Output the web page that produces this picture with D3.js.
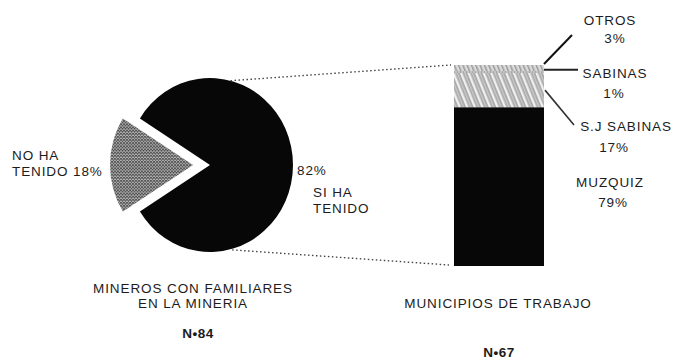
<!DOCTYPE html>
<html>
<head>
<meta charset="utf-8">
<script src="https://cdn.jsdelivr.net/npm/d3@7"></script>
<style>
  html, body { margin: 0; padding: 0; background: #fff; }
  svg { display: block; }
  text { font-family: "Liberation Sans", Arial, sans-serif; fill: #1c1c1c; }
</style>
</head>
<body>
<svg id="chart" width="681" height="359"></svg>
<script>
// ---- data ----
const pieCategories = ["SI HA TENIDO", "NO HA TENIDO"];
const pieValues = [82, 18];
const pieLabels = ["82%", "18%"];
const pieTitle = ["MINEROS CON FAMILIARES", "EN LA MINERIA"];
const pieN = "N•84";

const barCategories = ["MUZQUIZ", "S.J SABINAS", "SABINAS", "OTROS"];
const barValues = [79, 17, 1, 3];
const barLabels = ["79%", "17%", "1%", "3%"];
const barTitle = "MUNICIPIOS DE TRABAJO";
const barN = "N•67";

// ---- setup ----
const svg = d3.select("#chart");
const defs = svg.append("defs");

// cross-hatch for pie slice
const ph = defs.append("pattern").attr("id", "cross").attr("patternUnits", "userSpaceOnUse")
  .attr("width", 3).attr("height", 3);
ph.append("rect").attr("width", 3).attr("height", 3).attr("fill", "#b4b4b4");
ph.append("path").attr("d", "M0,0 L3,3 M3,0 L0,3").attr("stroke", "#4a4a4a").attr("stroke-width", 0.8);

// diagonal stripes for S.J SABINAS
const ps = defs.append("pattern").attr("id", "stripes").attr("patternUnits", "userSpaceOnUse")
  .attr("width", 7).attr("height", 7).attr("patternTransform", "rotate(-22)");
ps.append("rect").attr("width", 7).attr("height", 7).attr("fill", "#a8a8a8");
ps.append("rect").attr("x", 0).attr("width", 2.4).attr("height", 7).attr("fill", "#efefef");
ps.append("rect").attr("x", 4.2).attr("width", 1).attr("height", 7).attr("fill", "#d4d4d4");

// light pattern for top small segments
const pl = defs.append("pattern").attr("id", "light").attr("patternUnits", "userSpaceOnUse")
  .attr("width", 4).attr("height", 4).attr("patternTransform", "rotate(-22)");
pl.append("rect").attr("width", 4).attr("height", 4).attr("fill", "#dcdcdc");
pl.append("rect").attr("width", 1.5).attr("height", 4).attr("fill", "#9a9a9a");

const pd = defs.append("pattern").attr("id", "dots").attr("patternUnits", "userSpaceOnUse")
  .attr("width", 3).attr("height", 3);
pd.append("rect").attr("width", 3).attr("height", 3).attr("fill", "#c8c8c8");
pd.append("circle").attr("cx", 1.5).attr("cy", 1.5).attr("r", 0.9).attr("fill", "#777");

// ---- pie ----
const cx = 210, cy = 165, rx = 83, ry = 87;
const pFrac = pieValues[1] / d3.sum(pieValues);
const start = 1.5 * Math.PI - Math.PI * pFrac - 2 * Math.PI * (1 - pFrac);
const pie = d3.pie().sort(null).startAngle(start).endAngle(start + 2 * Math.PI);
const arcs = pie(pieValues);
const arc = d3.arc().innerRadius(0).outerRadius(rx);
const pieG = svg.append("g").attr("transform", `translate(${cx},${cy}) scale(1,${ry / rx})`);
const explode = [0, 17];
const pieFills = ["#070707", "url(#cross)"];
pieG.selectAll("path.slice").data(arcs).join("path")
  .attr("class", "slice")
  .attr("d", arc)
  .attr("transform", (d, i) => `translate(${-explode[i]},0)`)
  .attr("fill", (d, i) => pieFills[i]);

// ---- bar ----
const y = d3.scaleLinear().domain([0, 100]).range([266, 65]);
const bx0 = 454, bx1 = 544;
const stack = [];
let acc = 0;
barValues.forEach((v, i) => { stack.push({ cat: barCategories[i], v0: acc, v1: acc + v }); acc += v; });
const barFills = ["#070707", "url(#stripes)", "url(#dots)", "url(#light)"];
svg.selectAll("rect.seg").data(stack).join("rect")
  .attr("class", "seg")
  .attr("x", bx0).attr("width", bx1 - bx0)
  .attr("y", d => y(d.v1)).attr("height", d => y(d.v0) - y(d.v1))
  .attr("fill", (d, i) => barFills[i]);

// ---- dotted connectors ----
const aTop = 0.25, aBot = Math.PI - 0.27;
const conn = [
  [[cx + rx * Math.sin(aTop), cy - ry * Math.cos(aTop)], [bx0 - 3, y(100)]],
  [[cx + rx * Math.sin(aBot), cy - ry * Math.cos(aBot) + 1], [bx0 - 5, y(0) - 1]]
];
svg.selectAll("line.conn").data(conn).join("line")
  .attr("class", "conn")
  .attr("x1", d => d[0][0]).attr("y1", d => d[0][1])
  .attr("x2", d => d[1][0]).attr("y2", d => d[1][1])
  .attr("stroke", "#444").attr("stroke-width", 1.4).attr("stroke-dasharray", "1.5,2.5");

// ---- callout lines ----
const callouts = [
  { from: [bx1, y(100) - 1], to: [572, 35], w: 2, c: "#111" },       // OTROS
  { from: [bx1, y(97.6)], to: [578, y(97.6)], w: 2, c: "#222" },     // SABINAS
  { from: [bx1 + 1, y(87.5)], to: [574, 125], w: 1.6, c: "#333" }    // S.J SABINAS
];
svg.selectAll("line.call").data(callouts).join("line")
  .attr("class", "call")
  .attr("x1", d => d.from[0]).attr("y1", d => d.from[1])
  .attr("x2", d => d.to[0]).attr("y2", d => d.to[1])
  .attr("stroke", d => d.c).attr("stroke-width", d => d.w);

// ---- text ----
const fs = 13.5, ls = 0.9;
function txt(x, yy, s, anchor, opts = {}) {
  return svg.append("text").attr("x", x).attr("y", yy).text(s)
    .attr("text-anchor", anchor || "start")
    .attr("font-size", opts.size || fs)
    .attr("letter-spacing", opts.ls != null ? opts.ls : ls)
    .attr("font-weight", opts.bold ? "bold" : "normal");
}
// pie labels
txt(12, 160, "NO HA");
txt(12, 176, "TENIDO " + pieLabels[1]);
txt(297, 175, pieLabels[0]);
txt(313, 197, "SI HA");
txt(313, 213, "TENIDO");
txt(193, 293, pieTitle[0], "middle");
txt(193, 308, pieTitle[1], "middle");
txt(198, 338, pieN, "middle", { bold: true, ls: 0.5 });

// bar labels
const barLabelPos = [
  { name: [610, 187], pct: [613, 207] },
  { name: [626, 131], pct: [614, 152] },
  { name: [615, 78], pct: [614, 98] },
  { name: [610, 25], pct: [615, 43] }
];
barCategories.forEach((c, i) => {
  txt(barLabelPos[i].name[0], barLabelPos[i].name[1], c, "middle");
  txt(barLabelPos[i].pct[0], barLabelPos[i].pct[1], barLabels[i], "middle");
});
txt(498, 308, barTitle, "middle");
txt(499, 357, barN, "middle", { bold: true, ls: 0.5 });
</script>
</body>
</html>
